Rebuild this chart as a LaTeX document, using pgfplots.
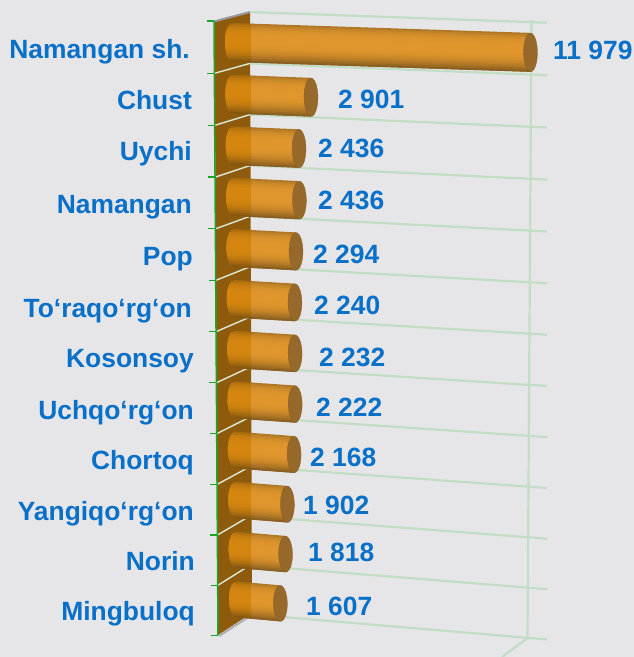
\documentclass[border=0pt]{standalone}
\usepackage{fontspec}
\setmainfont{Liberation Sans}
\usepackage{pgfplots}
\pgfplotsset{compat=1.18}
\definecolor{bg}{HTML}{E6E6E8}
\definecolor{txt}{HTML}{0870C8}
\definecolor{wall}{HTML}{8E5B0C}
\definecolor{gridg}{HTML}{C2DDC5}
\definecolor{sepl}{HTML}{DCE8D8}
\definecolor{greenax}{HTML}{1CA526}
\definecolor{sideg}{HTML}{96969A}
\definecolor{midR}{HTML}{E0962C}
\definecolor{edgeR}{HTML}{80591F}
\definecolor{midL}{HTML}{D5860F}
\definecolor{edgeL}{HTML}{7C5210}
\definecolor{capc}{HTML}{96692B}

% one cylinder: row index, value
\newcommand\cyl[2]{%
  \pgfmathsetmacro\xl{232+#1*4/11}
  \pgfmathsetmacro\yl{42.5+#1*51.8-#1*#1*0.107}
  \pgfmathsetmacro\hh{19.5-#1*1.5/11}
  \pgfmathsetmacro\sl{0.033+0.057*#1/11}
  \pgfmathsetmacro\xr{225.5+#1*4/11+305*pow(#2/11979,0.9)}
  \pgfplotsforeachungrouped \k in {0,...,23}{%
    % strips overlap the next one down, so no seams show
    \pgfmathsetmacro\ta{-1+\k/12}
    \pgfmathsetmacro\tb{min(1,-1+(\k+1)/12+0.1)}
    \pgfmathsetmacro\tm{-1+(\k+0.5)/12}
    \pgfmathsetmacro\mx{\tm<0 ? 100-60*pow(abs(\tm),4) : 100-100*pow(abs(\tm),2.2)}
    \pgfmathsetmacro\xa{\xl-7*sqrt(max(0,1-\ta*\ta))}
    \pgfmathsetmacro\xb{\xl-7*sqrt(max(0,1-\tb*\tb))}
    \pgfmathsetmacro\yaa{\yl+\sl*(\xa-\xl)+\ta*\hh}
    \pgfmathsetmacro\ybb{\yl+\sl*(\xb-\xl)+\tb*\hh}
    \pgfmathsetmacro\yam{\yl+\sl*(251-\xl)+\ta*\hh}
    \pgfmathsetmacro\ybm{\yl+\sl*(251-\xl)+\tb*\hh}
    \pgfmathsetmacro\yar{\yl+\sl*(\xr-\xl)+\ta*\hh}
    \pgfmathsetmacro\ybr{\yl+\sl*(\xr-\xl)+\tb*\hh}
    \edef\tmp{\noexpand\addplot[forget plot,draw=none,fill=midL!\mx!edgeL]
      coordinates {(\xa,\yaa)(251.5,\yam)(251.5,\ybm)(\xb,\ybb)} -- cycle;
      \noexpand\addplot[forget plot,draw=none,fill=midR!\mx!edgeR]
      coordinates {(251,\yam)(\xr,\yar)(\xr,\ybr)(251,\ybm)} -- cycle;}
    \tmp
  }
  \gdef\pts{}
  \pgfplotsforeachungrouped \a in {0,20,...,340}{%
    \pgfmathsetmacro\px{\xr+7*cos(\a)}
    \pgfmathsetmacro\py{\yl+\sl*(\px-\xl)+\hh*sin(\a)}
    \xdef\pts{\pts(\px,\py)}
  }
  \edef\tmp{\noexpand\addplot[forget plot,draw=capc!90!black,fill=capc,line width=.3pt]
    coordinates {\pts} -- cycle;}
  \tmp
}

\begin{document}
\begin{tikzpicture}
\begin{axis}[
  width=634pt, height=657pt, scale only axis,
  xmin=0, xmax=634, ymin=0, ymax=657, y dir=reverse,
  enlargelimits=false, ticks=none,
  axis line style={draw=none},
  axis background/.style={fill=bg},
  clip=true,
]
% back wall and its thin grey edges
\addplot[forget plot,fill=wall,draw=none] coordinates {(214.5,21)(250,12)(252,613)(218,635)} -- cycle;
\addplot[forget plot,sideg,line width=2pt] coordinates {(214,21.5)(250,12)};
\addplot[forget plot,sideg!70!bg,line width=2pt] coordinates {(219,636)(247,618)};
% grid lines
\pgfplotsforeachungrouped \k in {0,...,12}{%
  \pgfmathsetmacro\ya{12+51.5*\k-0.11*\k*\k}
  \pgfmathsetmacro\yb{22.7+52.6*\k-0.1*\k*\k}
  \edef\tmp{\noexpand\addplot[forget plot,gridg,line width=2.2pt] coordinates {(250,\ya)(547,\yb)};}
  \tmp
}
\addplot[forget plot,gridg,line width=2.2pt] coordinates {(531.5,20)(527.5,639)};
\addplot[forget plot,gridg,line width=2.2pt] coordinates {(527.5,638)(502,657)};
% separators on the wall
\pgfplotsforeachungrouped \k in {1,...,11}{%
  \pgfmathsetmacro\ya{21+52.3*\k-0.09*\k*\k}
  \pgfmathsetmacro\yb{12+51.5*\k-0.11*\k*\k}
  \pgfmathsetmacro\xa{214.5+\k*3.5/12}
  \edef\tmp{\noexpand\addplot[forget plot,sepl,line width=1.4pt] coordinates {(\xa,\ya)(250,\yb)};}
  \tmp
}
% cylinders
\cyl{0}{11979}
\cyl{1}{2901}
\cyl{2}{2436}
\cyl{3}{2436}
\cyl{4}{2294}
\cyl{5}{2240}
\cyl{6}{2232}
\cyl{7}{2222}
\cyl{8}{2168}
\cyl{9}{1902}
\cyl{10}{1818}
\cyl{11}{1607}
% green axis and ticks
\addplot[forget plot,greenax,line width=1.5pt] coordinates {(214,21)(218,635)};
\pgfplotsforeachungrouped \k in {0,...,12}{%
  \pgfmathsetmacro\ya{21+52.3*\k-0.09*\k*\k}
  \pgfmathsetmacro\xa{214+\k*4/12}
  \pgfmathsetmacro\xb{207+\k*4/12}
  \edef\tmp{\noexpand\addplot[forget plot,greenax,line width=1.2pt] coordinates {(\xb,\ya)(\xa,\ya)};}
  \tmp
}
% category names
\addplot[forget plot,only marks,mark=none,point meta=explicit symbolic,
  nodes near coords,
  every node near coord/.style={anchor=base east,inner sep=0pt,text=txt,font=\bfseries\fontsize{26.4}{26.4}\selectfont}]
  coordinates {
  (190,58)[Namangan sh.]
  (192,109)[Chust]
  (192,160)[Uychi]
  (192,213)[Namangan]
  (193,265)[Pop]
  (192,317)[To‘raqo‘rg‘on]
  (194,367)[Kosonsoy]
  (194,419)[Uchqo‘rg‘on]
  (194,469)[Chortoq]
  (194,520)[Yangiqo‘rg‘on]
  (195,570)[Norin]
  (195,620)[Mingbuloq]
};
% values
\addplot[forget plot,only marks,mark=none,point meta=explicit symbolic,
  nodes near coords,
  every node near coord/.style={anchor=base west,inner sep=0pt,text=txt,font=\bfseries\fontsize{26.4}{26.4}\selectfont}]
  coordinates {
  (553,59)[11 979]
  (338,108)[2 901]
  (318,157)[2 436]
  (318,209)[2 436]
  (313,263)[2 294]
  (314,314)[2 240]
  (319,366)[2 232]
  (316,416)[2 222]
  (310,466)[2 168]
  (303,514)[1 902]
  (308,561)[1 818]
  (306,615)[1 607]
};
\end{axis}
\end{tikzpicture}
\end{document}
